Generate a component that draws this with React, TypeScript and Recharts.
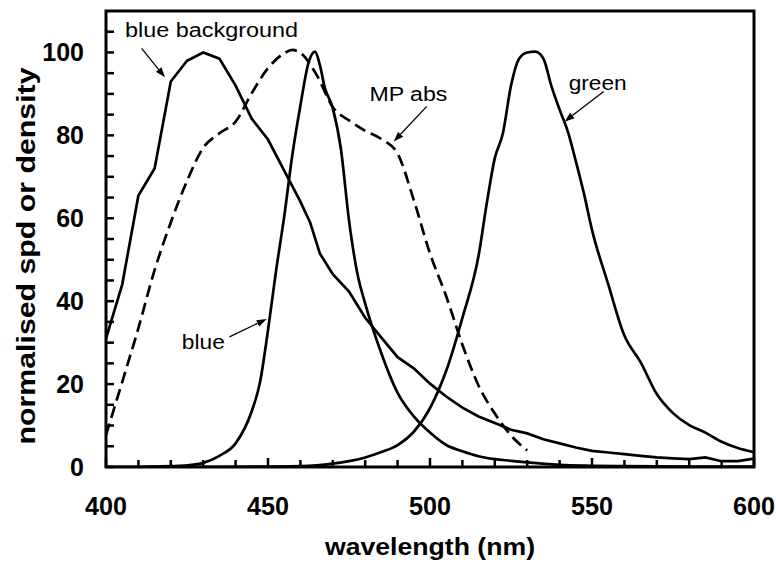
import React from "react";
import { Label, Line, LineChart, ReferenceArea, ReferenceDot, ReferenceLine, XAxis, YAxis } from "recharts";

const FONT = "'Liberation Sans', Arial, Helvetica, sans-serif";

// blue background spd
const blueBgWavelength = [400, 405, 410, 415, 420, 425, 430, 435, 440, 445, 450, 455, 460, 463, 466, 470, 475, 480, 485, 490, 495, 500, 505, 510, 515, 520, 525, 530, 535, 540, 545, 550, 555, 560, 565, 570, 575, 580, 585, 590, 595, 600];
const blueBgValue = [31, 44, 65.5, 72, 93, 98, 100, 98.5, 92, 84, 79, 71.5, 64, 59, 51.5, 46.5, 42.3, 36, 31.2, 26.5, 23.8, 20.1, 17, 14.3, 12.2, 10.6, 9, 8.1, 6.7, 5.7, 4.7, 3.9, 3.5, 3.1, 2.7, 2.3, 2.1, 1.9, 2.3, 1.4, 1.4, 2];

// macular pigment absorbance (dashed)
const mpWavelength = [400, 405, 410, 415, 420, 425, 430, 435, 440, 445, 450, 455, 457.5, 460, 465, 470, 475, 480, 485, 490, 495, 500, 505, 510, 515, 520, 525, 530];
const mpValue = [7.7, 20.5, 33.5, 47.5, 59, 69, 77, 80.5, 83.3, 90.2, 96.2, 99.8, 100.6, 99.9, 94.6, 86.8, 83.6, 81.1, 79.1, 75.6, 64.4, 51.5, 41.2, 29.5, 19.6, 12.9, 7.6, 4];

// blue primary
const blueWavelength = [400, 410, 420, 425, 430, 435, 440, 445, 447.5, 450, 452.5, 455, 457.5, 460, 462.5, 464.5, 466, 467.5, 470, 472.5, 475, 477.5, 480, 485, 490, 495, 500, 505, 510, 515, 520, 525, 530, 540, 550, 560, 580, 600];
const blueValue = [0, 0, 0.2, 0.4, 1, 2.7, 5.7, 13.5, 20.3, 33, 47.4, 60.4, 75.2, 87.2, 97.5, 100.2, 97, 91.6, 86.5, 76.7, 59.5, 47, 39.4, 27.4, 17.9, 12.2, 8.3, 5.3, 3.8, 2.6, 1.9, 1.5, 1.1, 0.5, 0.3, 0.2, 0.1, 0.1];

// green primary
const greenWavelength = [400, 440, 450, 460, 465, 470, 475, 480, 485, 490, 495, 500, 505, 510, 515, 517.5, 520, 522.5, 525, 527.5, 530, 532.5, 535, 537.5, 540, 542.5, 545, 547.5, 550, 555, 560, 565, 570, 575, 580, 585, 590, 595, 600];
const greenValue = [0, 0.05, 0.1, 0.2, 0.4, 0.8, 1.4, 2.3, 3.6, 5.3, 8.5, 14.2, 23.2, 36, 51, 63.5, 74.5, 80.5, 92, 98.5, 100, 100.2, 98.5, 91.8, 86.2, 81, 73.8, 66, 57.2, 44.1, 31.7, 25.3, 17.6, 13, 10.1, 8.3, 6.1, 4.6, 3.6];

const xTicks = [400, 410, 420, 430, 440, 450, 460, 470, 480, 490, 500, 510, 520, 530, 540, 550, 560, 570, 580, 590, 600];
const xTickLabels = [400, 450, 500, 550, 600];
const yTicks = [0, 5, 10, 15, 20, 25, 30, 35, 40, 45, 50, 55, 60, 65, 70, 75, 80, 85, 90, 95, 100, 105];
const yTickLabels = [0, 20, 40, 60, 80, 100];

// callouts, in data units
const callouts = [
  { text: "blue background", x: 405.9, y: 103.7, width: 173 },
  { text: "MP abs", x: 481.3, y: 88.2, width: 78 },
  { text: "green", x: 542.8, y: 91, width: 58 },
  { text: "blue", x: 423.4, y: 28.4, width: 43 },
];
const arrows = [
  { from: { x: 411, y: 101 }, to: { x: 418.2, y: 94 } },
  { from: { x: 499, y: 87 }, to: { x: 488.8, y: 78.5 } },
  { from: { x: 553.6, y: 90.6 }, to: { x: 541.5, y: 83.3 } },
  { from: { x: 438.1, y: 31.4 }, to: { x: 449.6, y: 35.7 } },
];

const toPoints = (xs: number[], ys: number[]) => xs.map((x, i) => ({ x, y: ys[i] }));

// eslint-disable-next-line @typescript-eslint/no-explicit-any
const XTick = ({ x, y, payload }: any) => {
  const major = xTickLabels.includes(payload.value);
  return (
    <g>
      <line x1={x} x2={x} y1={y} y2={y - (major ? 9 : 7)} stroke="#000" strokeWidth={2.5} />
      {major && (
        <text x={x} y={y + 48} textAnchor="middle" fontSize={25} fontWeight="bold" fontFamily={FONT} fill="#000"
          textLength={String(payload.value).length * 14} lengthAdjust="spacingAndGlyphs">
          {payload.value}
        </text>
      )}
    </g>
  );
};

// eslint-disable-next-line @typescript-eslint/no-explicit-any
const YTick = ({ x, y, payload }: any) => {
  const major = yTickLabels.includes(payload.value);
  return (
    <g>
      <line x1={x} x2={x + 8} y1={y} y2={y} stroke="#000" strokeWidth={2.5} />
      {major && (
        <text x={x - 22} y={y + 9} textAnchor="end" fontSize={25} fontWeight="bold" fontFamily={FONT} fill="#000">
          {payload.value}
        </text>
      )}
    </g>
  );
};

// eslint-disable-next-line @typescript-eslint/no-explicit-any
const XTitle = (props: any) => {
  const { x, y, width } = props.viewBox;
  return (
    <text x={x + width / 2} y={y + 88} textAnchor="middle" fontSize={24} fontWeight="bold" fontFamily={FONT}
      textLength={210} lengthAdjust="spacingAndGlyphs" fill="#000">
      wavelength (nm)
    </text>
  );
};

// eslint-disable-next-line @typescript-eslint/no-explicit-any
const YTitle = (props: any) => {
  const { y, height } = props.viewBox;
  const cy = y + height / 2 + 17;
  return (
    <text x={35} y={cy} transform={`rotate(-90 35 ${cy})`} textAnchor="middle" fontSize={25} fontWeight="bold"
      fontFamily={FONT} textLength={377} lengthAdjust="spacingAndGlyphs" fill="#000">
      normalised spd or density
    </text>
  );
};

// eslint-disable-next-line @typescript-eslint/no-explicit-any
const Arrow = ({ x1, y1, x2, y2 }: any) => {
  const ang = Math.atan2(y2 - y1, x2 - x1);
  const len = 10;
  const hw = 3.5;
  const bx = x2 - len * Math.cos(ang);
  const by = y2 - len * Math.sin(ang);
  const px = -Math.sin(ang) * hw;
  const py = Math.cos(ang) * hw;
  return (
    <g>
      <line x1={x1} y1={y1} x2={bx} y2={by} stroke="#000" strokeWidth={1.3} />
      <polygon points={`${x2},${y2} ${bx + px},${by + py} ${bx - px},${by - py}`} fill="#000" />
    </g>
  );
};

const calloutShape = (text: string, width: number) =>
  // eslint-disable-next-line @typescript-eslint/no-explicit-any
  ({ cx, cy }: any) => (
    <text x={cx} y={cy} fontSize={20} fontFamily={FONT} textLength={width} lengthAdjust="spacingAndGlyphs" fill="#000">
      {text}
    </text>
  );

export default function App() {
  return (
    <div style={{ position: "absolute", left: 0, top: 0, background: "#fff" }}>
      <LineChart width={776} height={565} margin={{ top: 11, right: 22, left: 0, bottom: 0 }}>
        <XAxis
          type="number"
          dataKey="x"
          domain={[400, 600]}
          ticks={xTicks}
          interval={0}
          allowDataOverflow
          height={98}
          axisLine={false}
          tickLine={false}
          tickSize={0}
          tickMargin={0}
          tick={<XTick />}
          label={<Label content={XTitle} />}
        />
        <YAxis
          type="number"
          domain={[0, 110]}
          ticks={yTicks}
          interval={0}
          allowDataOverflow
          width={106}
          axisLine={false}
          tickLine={false}
          tickSize={0}
          tickMargin={0}
          tick={<YTick />}
          label={<Label content={YTitle} />}
        />
        <ReferenceArea x1={400} x2={600} y1={0} y2={110} fill="none" stroke="#000" strokeWidth={3} ifOverflow="visible" />
        <Line data={toPoints(blueBgWavelength, blueBgValue)} dataKey="y" type="linear" stroke="#000" strokeWidth={2.7}
          dot={false} activeDot={false} isAnimationActive={false} />
        <Line data={toPoints(mpWavelength, mpValue)} dataKey="y" type="monotone" stroke="#000" strokeWidth={2.7}
          strokeDasharray="12 6" dot={false} activeDot={false} isAnimationActive={false} />
        <Line data={toPoints(blueWavelength, blueValue)} dataKey="y" type="monotone" stroke="#000" strokeWidth={2.7}
          dot={false} activeDot={false} isAnimationActive={false} />
        <Line data={toPoints(greenWavelength, greenValue)} dataKey="y" type="monotone" stroke="#000" strokeWidth={2.7}
          dot={false} activeDot={false} isAnimationActive={false} />
        {arrows.map((a, i) => (
          <ReferenceLine key={`a${i}`} segment={[a.from, a.to]} shape={Arrow} ifOverflow="visible" />
        ))}
        {callouts.map((c) => (
          <ReferenceDot key={c.text} x={c.x} y={c.y} r={0} shape={calloutShape(c.text, c.width)} ifOverflow="visible" />
        ))}
      </LineChart>
    </div>
  );
}
